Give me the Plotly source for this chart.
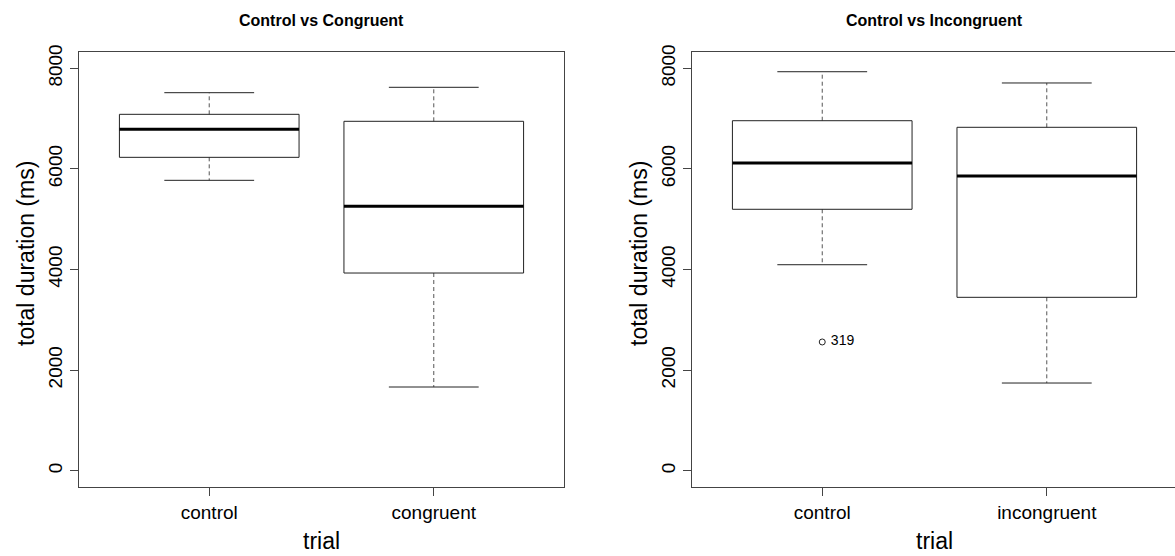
import plotly.graph_objects as go

# ---- data ----
panel_titles = ["Control vs Congruent", "Control vs Incongruent"]
left_categories = ["control", "congruent"]
right_categories = ["control", "incongruent"]
x_title = "trial"
y_title = "total duration (ms)"

# stats: lower whisker, Q1, median, Q3, upper whisker
left_lower = [5773, 1664]
left_q1 = [6230, 3930]
left_median = [6787, 5256]
left_q3 = [7085, 6946]
left_upper = [7515, 7622]

right_lower = [4095, 1743]
right_q1 = [5197, 3447]
right_median = [6117, 5859]
right_q3 = [6958, 6827]
right_upper = [7932, 7708]

# outliers (panel 2)
outlier_group = [1]
outlier_values = [2559]
outlier_labels = ["319"]

y_ticks = [0, 2000, 4000, 6000, 8000]

FONT = "Liberation Sans, Arial, sans-serif"
INK = "#222222"
HALF_BOX = 0.4
HALF_CAP = 0.2
W, H = 1175, 556

fig = go.Figure()


def add_boxes(cats, lw, q1, med, q3, uw, xa, ya):
    for i, _ in enumerate(cats):
        c = i + 1
        # whiskers (dashed)
        fig.add_trace(go.Scatter(x=[c, c, None, c, c], y=[q3[i], uw[i], None, q1[i], lw[i]],
                                 mode="lines", line=dict(color="#555555", width=1, dash="4px,3px"),
                                 xaxis=xa, yaxis=ya, showlegend=False, hoverinfo="skip"))
        # caps
        fig.add_trace(go.Scatter(x=[c - HALF_CAP, c + HALF_CAP, None, c - HALF_CAP, c + HALF_CAP],
                                 y=[uw[i], uw[i], None, lw[i], lw[i]],
                                 mode="lines", line=dict(color=INK, width=1),
                                 xaxis=xa, yaxis=ya, showlegend=False, hoverinfo="skip"))
        # box
        fig.add_trace(go.Scatter(x=[c - HALF_BOX, c + HALF_BOX, c + HALF_BOX, c - HALF_BOX, c - HALF_BOX],
                                 y=[q1[i], q1[i], q3[i], q3[i], q1[i]],
                                 mode="lines", line=dict(color=INK, width=1),
                                 xaxis=xa, yaxis=ya, showlegend=False, hoverinfo="skip"))
        # median
        fig.add_trace(go.Scatter(x=[c - HALF_BOX, c + HALF_BOX], y=[med[i], med[i]],
                                 mode="lines", line=dict(color="#000000", width=3),
                                 xaxis=xa, yaxis=ya, showlegend=False, hoverinfo="skip"))


add_boxes(left_categories, left_lower, left_q1, left_median, left_q3, left_upper, "x", "y")
add_boxes(right_categories, right_lower, right_q1, right_median, right_q3, right_upper, "x2", "y2")

fig.add_trace(go.Scatter(x=outlier_group, y=outlier_values, mode="markers+text",
                         text=outlier_labels, texttemplate=" %{text}", textposition="middle right",
                         textfont=dict(family=FONT, size=14, color="#000000"),
                         marker=dict(symbol="circle-open", size=6, color=INK, line=dict(width=1)),
                         xaxis="x2", yaxis="y2", showlegend=False, hoverinfo="skip"))

y_dom = [(H - 486.7) / H, (H - 52.3) / H]
axis_common = dict(showgrid=False, zeroline=False, showline=True, linecolor="#444444", linewidth=1,
                   ticks="outside", ticklen=8, tickcolor="#444444", automargin=False,
                   tickfont=dict(family=FONT, size=19, color="#000000"))

xcommon = dict(axis_common, tickvals=[1, 2], range=[0.42, 2.58])
ycommon = dict(axis_common, tickvals=y_ticks, range=[-318, 8318], tickangle=-90)

left_dom = [79 / W, 564 / W]
right_dom = [692 / W, 1.0]

title_font = dict(family=FONT, size=16, color="#000000")
lab_font = dict(family=FONT, size=23, color="#000000")
ymid = (H - 254) / H
annotations = []
for dom, ttl, yx in [(left_dom, panel_titles[0], 26), (right_dom, panel_titles[1], 639)]:
    xc = (dom[0] + (dom[0] + 485 / W)) / 2
    annotations.append(dict(text="<b>" + ttl + "</b>", x=xc, y=1 - 20 / H, xref="paper", yref="paper",
                            xanchor="center", yanchor="middle", showarrow=False, font=title_font))
    annotations.append(dict(text=x_title, x=xc, y=1 - 541 / H, xref="paper", yref="paper",
                            xanchor="center", yanchor="middle", showarrow=False, font=lab_font))
    annotations.append(dict(text=y_title, x=yx / W, y=ymid, xref="paper", yref="paper", textangle=-90,
                            xanchor="center", yanchor="middle", showarrow=False, font=lab_font))

fig.update_layout(
    width=W, height=H,
    margin=dict(l=0, r=0, t=0, b=0, autoexpand=False),
    paper_bgcolor="white", plot_bgcolor="white",
    xaxis=dict(xcommon, domain=left_dom, ticktext=left_categories, anchor="y", mirror=True),
    yaxis=dict(ycommon, domain=y_dom, anchor="x", mirror=True),
    xaxis2=dict(xcommon, domain=right_dom, ticktext=right_categories, anchor="y2", mirror=True,
                range=[0.42, 2.571]),
    yaxis2=dict(ycommon, domain=y_dom, anchor="x2", mirror=False),
    annotations=annotations,
)

fig.write_html("out.html", config={"displayModeBar": False},
               post_script="document.body.style.margin='0';")
